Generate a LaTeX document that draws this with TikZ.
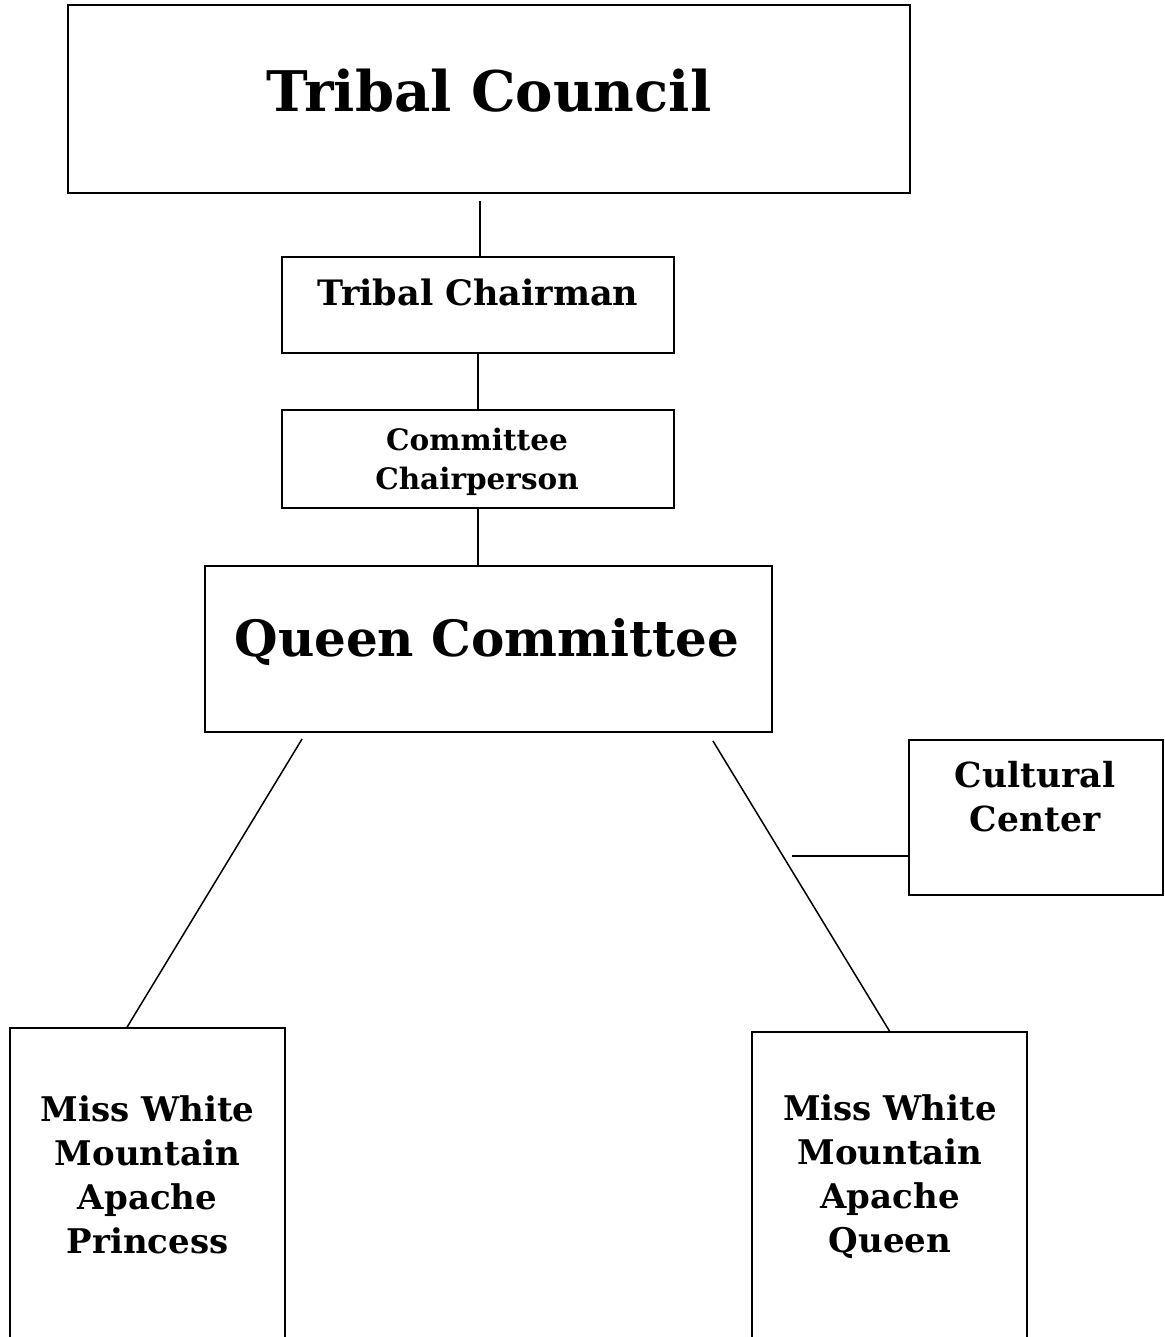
\documentclass[tikz,border=0pt]{standalone}
\usepackage{fontspec}
\setmainfont{DejaVu Serif}
\usetikzlibrary{calc}
\tikzset{
  box/.style={draw=black, line width=1.8pt, rectangle, inner sep=0pt},
  lbl/.style={font=\bfseries, align=center, inner sep=0pt},
  conn/.style={draw=black, line width=1.5pt}
}
\begin{document}
\begin{tikzpicture}[x=1pt,y=-1pt]
\clip (0,0) rectangle (1164,1337);
\fill[white] (0,0) rectangle (1164,1337);
% boxes
\node[box, minimum width=842pt, minimum height=188pt] (tc) at (489,99) {};
\node[lbl, font=\bfseries\fontsize{56}{60}\selectfont] (tctext) at (489,91) {Tribal Council};
\node[box, minimum width=392pt, minimum height=96pt] (tchair) at (478,305) {};
\node[lbl, font=\bfseries\fontsize{35}{40}\selectfont] (tchairtext) at (478,292) {Tribal Chairman};
\node[box, minimum width=392pt, minimum height=98pt] (cchair) at (478,459) {};
\node[lbl, font=\bfseries\fontsize{29.5}{39}\selectfont] (cchairtext) at (477,462) {Committee\\Chairperson};
\node[box, minimum width=567pt, minimum height=166pt] (qc) at (488.5,649) {};
\node[lbl, font=\bfseries\fontsize{50}{56}\selectfont] (qctext) at (487,642) {Queen Committee};
\node[box, minimum width=254pt, minimum height=155pt] (cc) at (1036,817.5) {};
\node[lbl, font=\bfseries\fontsize{34.5}{44}\selectfont] (cctext) at (1035,797) {Cultural\\Center};
\node[box, minimum width=275pt, minimum height=340pt] (princess) at (147.5,1198) {};
\node[lbl, font=\bfseries\fontsize{34}{44}\selectfont] (princesstext) at (147.5,1175) {Miss White\\Mountain\\Apache\\Princess};
\node[box, minimum width=275pt, minimum height=340pt] (queen) at (889.5,1202) {};
\node[lbl, font=\bfseries\fontsize{34}{44}\selectfont] (queentext) at (890,1177) {Miss White\\Mountain\\Apache\\Queen};
% connectors
\draw[conn] ($(tchair.north |- tc.south)+(2,7)$) -- ($(tchair.north)+(2,0)$);
\draw[conn] (tchair.south) -- (cchair.north);
\draw[conn] (cchair.south) -- (cchair.south |- qc.north);
\draw[conn] ($(qc.south west)+(98,6)$) -- ($(princess.north west)+(118,0)$);
\draw[conn] ($(qc.south east)+(-60,8)$) -- (queen.north);
\coordinate (ccend) at (792,856);
\draw[conn] (ccend) -- (ccend -| cc.west);
\end{tikzpicture}
\end{document}
